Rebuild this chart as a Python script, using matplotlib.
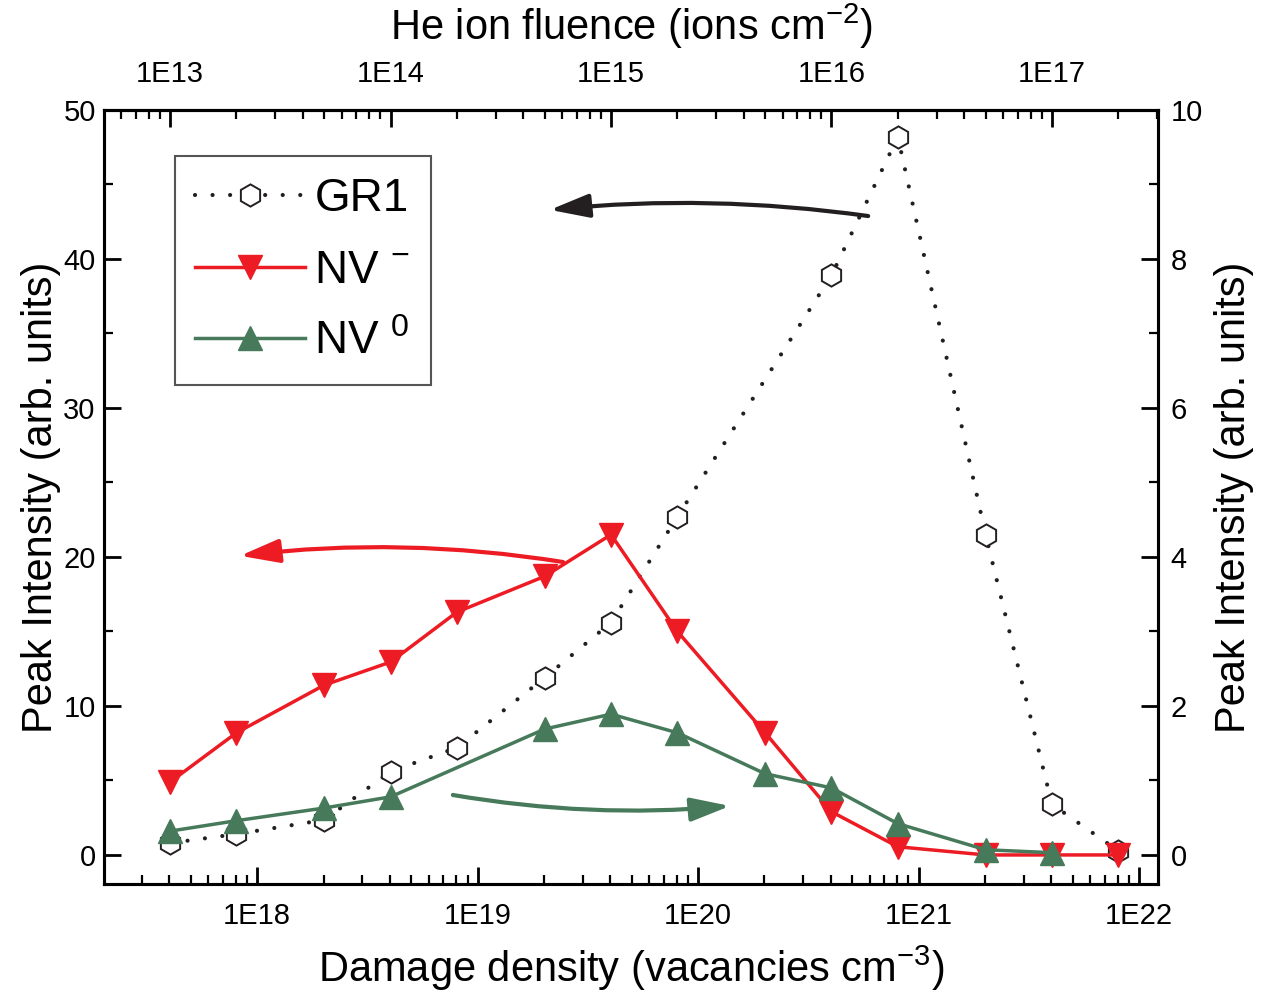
import numpy as np
import matplotlib
matplotlib.use("Agg")
import matplotlib.pyplot as plt
from matplotlib.ticker import LogLocator, FixedLocator, FuncFormatter, NullFormatter, MultipleLocator

plt.rcParams['font.family'] = ['Liberation Sans', 'DejaVu Sans']
plt.rcParams['mathtext.fontset'] = 'custom'
plt.rcParams['mathtext.rm'] = 'Liberation Sans'
plt.rcParams['mathtext.it'] = 'Liberation Sans:italic'
plt.rcParams['mathtext.bf'] = 'Liberation Sans:bold'

# He ion fluence (ions cm^-2) and conversion to damage density
factor = 4.03e4
fluence_gr1 = np.array([1e13, 2e13, 5e13, 1e14, 2e14, 5e14, 1e15, 2e15, 1e16, 2e16, 5e16, 1e17, 2e17])
gr1 = [0.8, 1.4, 2.35, 5.6, 7.2, 11.9, 15.6, 22.7, 38.9, 48.2, 21.5, 3.4, 0.27]

fluence_nvm = np.array([1e13, 2e13, 5e13, 1e14, 2e14, 5e14, 1e15, 2e15, 5e15, 1e16, 2e16, 5e16, 1e17, 2e17])
nv_minus = [4.9, 8.2, 11.4, 12.95, 16.3, 18.7, 21.5, 15.0, 8.2, 2.9, 0.55, 0.0, 0.0, 0.0]

fluence_nv0 = np.array([1e13, 2e13, 5e13, 1e14, 5e14, 1e15, 2e15, 5e15, 1e16, 2e16, 5e16, 1e17])
nv_zero = [0.32, 0.46, 0.63, 0.78, 1.69, 1.89, 1.64, 1.09, 0.9, 0.42, 0.07, 0.03]

top_ticks = [1e13, 1e14, 1e15, 1e16, 1e17]
bottom_ticks = [1e18, 1e19, 1e20, 1e21, 1e22]

red = '#ED1C24'
green = '#477A5A'
black = '#231F20'

fig = plt.figure(figsize=(12.66, 9.97), dpi=100)
ax = fig.add_axes([104/1266, 1-884/997, 1054/1266, 774/997])
ax2 = ax.twinx()

l1, = ax.plot(fluence_gr1*factor, gr1, color=black, lw=3, linestyle=(0, (0.01, 4.2)),
              dash_capstyle='round', marker='h', ms=16, mfc='white', mec=black, mew=1.4, label='GR1')
l2, = ax.plot(fluence_nvm*factor, nv_minus, color=red, lw=2.5, marker='v', ms=17,
              mec=red, label='NV $^{-}$')
l3, = ax2.plot(fluence_nv0*factor, nv_zero, color=green, lw=2.5, marker='^', ms=17,
               mec=green, label='NV $^{0}$')

ax.set_xscale('log')
ax.set_xlim(2.02e17, 1.22e22)
ax.set_ylim(-1.95, 50)
ax2.set_ylim(-0.39, 10)

fmt = FuncFormatter(lambda v, p: '1E%d' % int(round(np.log10(v))))
ax.xaxis.set_major_locator(FixedLocator(bottom_ticks))
ax.xaxis.set_minor_locator(LogLocator(base=10, subs=np.arange(2, 10)))
ax.xaxis.set_major_formatter(fmt)
ax.xaxis.set_minor_formatter(NullFormatter())
ax.yaxis.set_major_locator(MultipleLocator(10))
ax.yaxis.set_minor_locator(MultipleLocator(5))
ax2.yaxis.set_major_locator(MultipleLocator(2))
ax2.yaxis.set_minor_locator(MultipleLocator(1))

secax = ax.secondary_xaxis('top', functions=(lambda x: x/factor, lambda x: x*factor))
secax.xaxis.set_major_locator(FixedLocator(top_ticks))
secax.xaxis.set_minor_locator(LogLocator(base=10, subs=np.arange(2, 10)))
secax.xaxis.set_major_formatter(fmt)
secax.xaxis.set_minor_formatter(NullFormatter())

for a in (ax, ax2, secax):
    a.tick_params(which='major', direction='in', length=12, width=2, labelsize=21)
    a.tick_params(which='minor', direction='in', length=6.5, width=1.6,
                  labeltop=False, labelbottom=False, labelleft=False, labelright=False)
ax.tick_params(axis='x', pad=13)
secax.tick_params(axis='x', pad=16)
ax.tick_params(axis='y', pad=6)
ax2.tick_params(axis='y', pad=9)
for a in (ax, ax2, secax):
    for s in a.spines.values():
        s.set_linewidth(2.2)

ax.set_xlabel('Damage density (vacancies cm$^{-3}$)', fontsize=30, labelpad=10)
secax.set_xlabel('He ion fluence (ions cm$^{-2}$)', fontsize=30, labelpad=14)
ax.set_ylabel('Peak Intensity (arb. units)', fontsize=30, labelpad=2)
ax2.set_ylabel('Peak Intensity (arb. units)', fontsize=30, labelpad=8)

# arrows pointing to the axis each curve belongs to
astyle = '-|>,head_length=1.2,head_width=0.36'
ax2.annotate('', xy=(0.423, 0.871), xytext=(0.725, 0.863), xycoords='axes fraction',
             arrowprops=dict(arrowstyle=astyle, connectionstyle='arc3,rad=0.06',
                             color=black, lw=3, mutation_scale=20, shrinkA=0, shrinkB=0))
ax2.annotate('', xy=(0.129, 0.424), xytext=(0.4355, 0.416), xycoords='axes fraction',
             arrowprops=dict(arrowstyle=astyle, connectionstyle='arc3,rad=0.07',
                             color=red, lw=3, mutation_scale=20, shrinkA=0, shrinkB=0))
ax2.annotate('', xy=(0.594, 0.1008), xytext=(0.331, 0.115), xycoords='axes fraction',
             arrowprops=dict(arrowstyle=astyle, connectionstyle='arc3,rad=0.065',
                             color=green, lw=3, mutation_scale=20, shrinkA=0, shrinkB=0))

leg = ax2.legend(handles=[l1, l2, l3], loc='upper left', bbox_to_anchor=(0.067, 0.94),
                 borderaxespad=0, fontsize=33, handlelength=2.4, labelspacing=0.6,
                 fancybox=False, framealpha=1, edgecolor='#555555', borderpad=0.45,
                 handletextpad=0.2)
leg.get_frame().set_linewidth(1.5)

fig.savefig('out.png', dpi=100)
